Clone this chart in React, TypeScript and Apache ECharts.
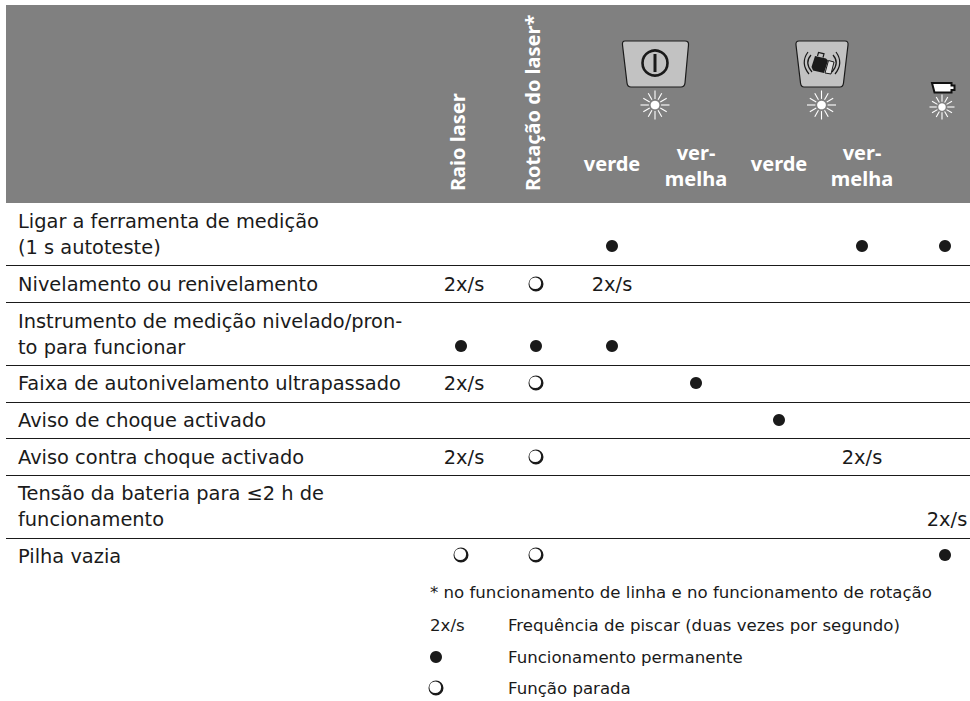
import React, { useEffect, useRef } from "react";
import * as echarts from "echarts";

const FONT = '"DejaVu Sans"';
const HEAD_FONT = '"Noto Sans"';
const INK = "#1a1a1a";
const HEADER = "#808080";
const TABLE_SIZE = 19.4;
const NOTE_SIZE = 16.6;

const rowLabels = [
  "Ligar a ferramenta de medição\n(1 s autoteste)",
  "Nivelamento ou renivelamento",
  "Instrumento de medição nivelado/pron-\nto para funcionar",
  "Faixa de autonivelamento ultrapassado",
  "Aviso de choque activado",
  "Aviso contra choque activado",
  "Tensão da bateria para ≤2 h de\nfuncionamento",
  "Pilha vazia",
];
// cell states: "on" permanent, "off" stopped, "2x/s" blinking, "" empty
const rowStates = [
  ["", "", "on", "", "", "on", "on"],
  ["2x/s", "off", "2x/s", "", "", "", ""],
  ["on", "on", "on", "", "", "", ""],
  ["2x/s", "off", "", "on", "", "", ""],
  ["", "", "", "", "on", "", ""],
  ["2x/s", "off", "", "", "", "2x/s", ""],
  ["", "", "", "", "", "", "2x/s"],
  ["off", "off", "", "", "", "", "on"],
];
const notes = [
  "* no funcionamento de linha e no funcionamento de rotação",
  "Frequência de piscar (duas vezes por segundo)",
  "Funcionamento permanente",
  "Função parada",
];
const blinkLegend = "2x/s";
const rotatedHeads = ["Raio laser", "Rotação do laser*"];
const colourHeads = ["verde", "ver-\nmelha", "verde", "ver-\nmelha"];

// layout (page pixels)
const columnX = [461, 536, 612, 696, 779, 862, 945];
const blinkX = [464, 536, 612, 696, 779, 862, 947];
const rowTextY = [234, 284, 334, 383, 420, 457, 506.5, 556];
const rowMarkY = [246, 284, 346, 383, 420, 457, 519, 555];
const ruleY = [265, 302, 365, 402, 438, 475, 538];
const noteY = [592, 625, 657, 688];

const OFF_SYMBOL =
  "path://M6 0A6 6 0 1 1 6 12A6 6 0 1 1 6 0ZM5.4 0.7A4.7 4.7 0 1 0 5.4 10.1A4.7 4.7 0 1 0 5.4 0.7Z";

const star = (cx: number, cy: number, r: number) => {
  const els: any[] = [];
  for (let i = 0; i < 12; i++) {
    const a = (i * Math.PI) / 6;
    const long = i % 3 === 0 ? r : r - 1;
    els.push({
      type: "line",
      shape: {
        x1: cx + Math.cos(a) * (r * 0.42),
        y1: cy + Math.sin(a) * (r * 0.42),
        x2: cx + Math.cos(a) * long,
        y2: cy + Math.sin(a) * long,
      },
      style: { stroke: "#ffffff", lineWidth: 1.1 },
    });
  }
  els.push({ type: "circle", shape: { cx, cy, r: r * 0.3 }, style: { fill: "#ffffff" } });
  return els;
};

echarts.graphic.registerShape(
  "keyA",
  echarts.graphic.extendPath(
    "M625 41L685 41Q689 41 688.5 45L685 83Q684.5 87 681 87L631 87Q627.5 87 627 83L622.5 45Q622 41 625 41Z",
    {}
  )
);
echarts.graphic.registerShape(
  "keyB",
  echarts.graphic.extendPath(
    "M799 41L845 41Q848.5 41 848 45L843.5 83Q843 87 840 87L804 87Q801 87 800.5 83L796 45Q795.5 41 799 41Z",
    {}
  )
);
echarts.graphic.registerShape(
  "bagDark",
  echarts.graphic.extendPath("M815 56L826 58.5L828 60.5L824 73L813 70.5L811.5 67Z", {})
);
echarts.graphic.registerShape(
  "bagLight",
  echarts.graphic.extendPath("M828.5 60.5L834 62L831 74L825 73Z", {})
);
echarts.graphic.registerShape(
  "bagLines",
  echarts.graphic.extendPath(
    "M817.5 56L818.5 52.5L824 53.8L823 57.5M808 52Q800 63 809 74M811 55Q804 63 812 72M836 52Q844 63 835 74M833 55Q840 63 832 72",
    {}
  )
);
echarts.graphic.registerShape(
  "battery",
  echarts.graphic.extendPath("M932 83L951.5 83L951.5 85.5L954.5 85.5L954.5 90L951.5 90L951.5 92.5L934.5 92.5Z", {})
);

const textEl = (x: number, y: number, text: string, extra: any = {}) => ({
  type: "text",
  x,
  y,
  ...extra,
  style: {
    text,
    fill: INK,
    font: `${TABLE_SIZE}px ${FONT}`,
    align: "left",
    verticalAlign: "middle",
    lineHeight: 26,
    ...(extra.style || {}),
  },
});

const noteStyle = { style: { font: `${NOTE_SIZE}px ${FONT}` } };

export default function App() {
  const ref = useRef<HTMLDivElement>(null);

  useEffect(() => {
    const chart = echarts.init(ref.current!, undefined, { renderer: "svg" });

    const onData: number[][] = [];
    const offData: number[][] = [];
    const blinkData: number[][] = [];
    rowStates.forEach((row, r) =>
      row.forEach((state, c) => {
        if (state === "on") onData.push([columnX[c], rowMarkY[r]]);
        if (state === "off") offData.push([columnX[c], rowMarkY[r]]);
        if (state === "2x/s") blinkData.push([blinkX[c], rowMarkY[r]]);
      })
    );
    onData.push([436, noteY[2]]);
    offData.push([436, noteY[3]]);

    const headBold = { font: `bold 20px ${HEAD_FONT}`, fill: "#ffffff" };

    chart.setOption({
      animation: false,
      backgroundColor: "#ffffff",
      grid: { left: 0, right: 0, top: 0, bottom: 0 },
      xAxis: { type: "value", min: 0, max: 970, show: false },
      yAxis: { type: "value", min: 0, max: 701, inverse: true, show: false },
      series: [
        {
          type: "scatter",
          name: "on",
          symbol: "circle",
          symbolSize: 12,
          itemStyle: { color: INK, opacity: 1 },
          data: onData,
        },
        {
          type: "scatter",
          name: "off",
          symbol: OFF_SYMBOL,
          symbolSize: 15,
          itemStyle: { color: INK, opacity: 1 },
          data: offData,
        },
        {
          type: "scatter",
          name: "2x/s",
          symbol: "circle",
          symbolSize: 1,
          itemStyle: { color: "transparent", opacity: 1 },
          label: {
            show: true,
            position: "inside",
            formatter: "2x/s",
            color: INK,
            opacity: 1,
            fontFamily: FONT,
            fontSize: TABLE_SIZE,
          },
          data: blinkData,
        },
      ],
      graphic: {
        elements: [
          {
            type: "rect",
            z: -1,
            shape: { x: 6, y: 5, width: 964, height: 198 },
            style: { fill: HEADER },
          },
          ...ruleY.map((y) => ({
            type: "line",
            shape: { x1: 6, y1: y + 0.5, x2: 970, y2: y + 0.5 },
            style: { stroke: INK, lineWidth: 1 },
          })),
          ...rowLabels.map((label, i) => textEl(18, rowTextY[i], label)),
          textEl(430, noteY[0], notes[0], noteStyle),
          textEl(430, noteY[1], blinkLegend, noteStyle),
          textEl(508, noteY[1], notes[1], noteStyle),
          textEl(508, noteY[2], notes[2], noteStyle),
          textEl(508, noteY[3], notes[3], noteStyle),
          textEl(457, 191, rotatedHeads[0], { rotation: Math.PI / 2, style: headBold }),
          textEl(532, 191, rotatedHeads[1], { rotation: Math.PI / 2, style: headBold }),
          ...colourHeads.map((label, i) =>
            textEl(columnX[i + 2], i % 2 ? 165 : 163, label, {
              style: { ...headBold, align: "center" },
            })
          ),
          {
            type: "keyA",
            x: 0,
            y: 0,
            style: { fill: "#c2c2c2", stroke: INK, lineWidth: 1.2 },
          },
          {
            type: "circle",
            shape: { cx: 655, cy: 63, r: 12.5 },
            style: { fill: "none", stroke: INK, lineWidth: 2.6 },
          },
          { type: "rect", shape: { x: 653.5, y: 54, width: 3, height: 18 }, style: { fill: INK } },
          ...star(655, 105, 14.5),
          {
            type: "keyB",
            x: 0,
            y: 0,
            style: { fill: "#c2c2c2", stroke: INK, lineWidth: 1.2 },
          },
          { type: "bagDark", x: 0, y: 0, style: { fill: INK } },
          { type: "bagLight", x: 0, y: 0, style: { fill: "#dddddd", stroke: INK, lineWidth: 1 } },
          { type: "bagLines", x: 0, y: 0, style: { fill: "none", stroke: INK, lineWidth: 1.2 } },
          ...star(821.5, 105, 14.5),
          { type: "battery", x: 0, y: 0, style: { fill: "#ffffff", stroke: "#111111", lineWidth: 2 } },
          ...star(942, 107, 12.5),
        ],
      },
    });

    return () => chart.dispose();
  }, []);

  return (
    <div
      ref={ref}
      style={{ position: "absolute", left: 0, top: 0, width: 970, height: 701 }}
    />
  );
}
